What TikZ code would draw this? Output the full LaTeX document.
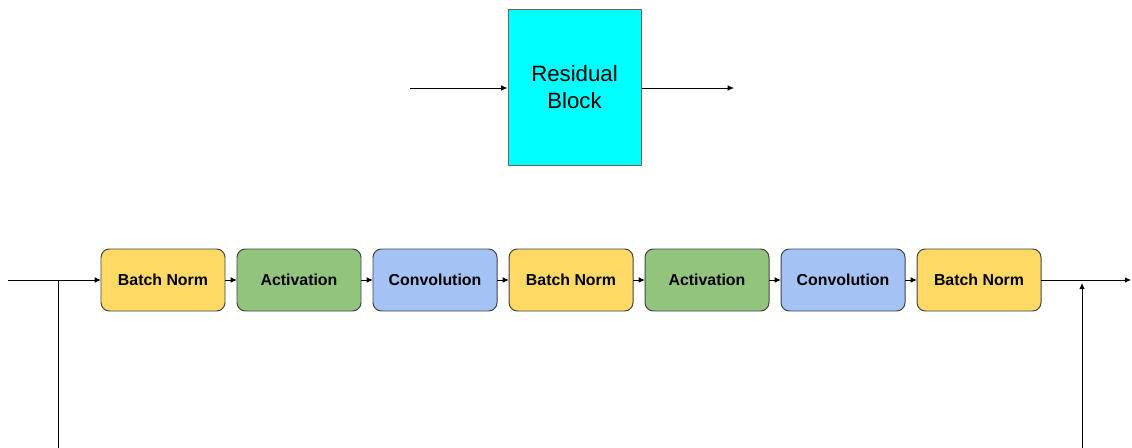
\documentclass[tikz,border=0pt]{standalone}
\usepackage{fontspec}
\setmainfont{Liberation Sans}
\usetikzlibrary{
  arrows.meta,
  positioning
}
\definecolor{blockcyan}{HTML}{00FFFF}
\definecolor{bnyellow}{HTML}{FFD966}
\definecolor{actgreen}{HTML}{93C47D}
\definecolor{convblue}{HTML}{A4C2F4}
\definecolor{edgegray}{HTML}{434343}
\tikzset{
%
  % For all connectors.
  line/.style={
    line width=0.7pt,
    -{Latex[length=4.5pt,width=4pt]}},
%
  % For the big block on top.
  block/.style={
    draw=black!60,
    line width=0.7pt,
    fill=blockcyan,
    minimum width=3.325cm,
    minimum height=3.9cm,
    align=center,
    font=\fontsize{15.8}{19}\selectfont},
%
  % For the layers in the chain.
  layer/.style={
    draw=edgegray,
    line width=0.7pt,
    rounded corners=6pt,
    outer sep=0pt,
    minimum width=3.1cm,
    minimum height=1.55cm,
    font=\fontsize{11.3}{13}\selectfont\bfseries},
  norm/.style={layer, fill=bnyellow},
  act/.style={layer, fill=actgreen},
  conv/.style={layer, fill=convblue}
}

\begin{document}
\begin{tikzpicture}
  \useasboundingbox (0,0) rectangle (28.3,-11.175);

  \node[block] (R) at (14.3625,-2.175) {Residual\\Block};
  \coordinate (Rin) at (10.25,-2.2);
  \coordinate (Rout) at (18.35,-2.2);
  \draw[line] (Rin) -- (R.west |- Rin);
  \draw[line] (R.east |- Rout) -- (Rout);

  \node[norm] (N1) at (4.075,-7.0) {Batch Norm};
  \node[act]  (A1) [right=0.3cm of N1] {Activation};
  \node[conv] (C1) [right=0.3cm of A1] {Convolution};
  \node[norm] (N2) [right=0.3cm of C1] {Batch Norm};
  \node[act]  (A2) [right=0.3cm of N2] {Activation};
  \node[conv] (C2) [right=0.3cm of A2] {Convolution};
  \node[norm] (N3) [right=0.3cm of C2] {Batch Norm};

  \coordinate (in) at (0.2,-7.0);
  \coordinate (out) at (28.28,-7.0);
  \coordinate (split) at (1.45,-7.0);
  \coordinate (skip start) at (1.45,-11.2);
  \coordinate (skip end) at (27.05,-11.2);
  \coordinate (merge) at (27.05,-7.07);

  \draw[line] (in) -- (N1);
  \foreach \a/\b in {N1/A1, A1/C1, C1/N2, N2/A2, A2/C2, C2/N3}
    \draw[line] (\a) -- (\b);
  \draw[line] (N3) -- (out);

  % skip path
  \draw[line width=0.7pt] (split) -- (skip start);
  \draw[line] (skip end) -- (merge);
\end{tikzpicture}
\end{document}
